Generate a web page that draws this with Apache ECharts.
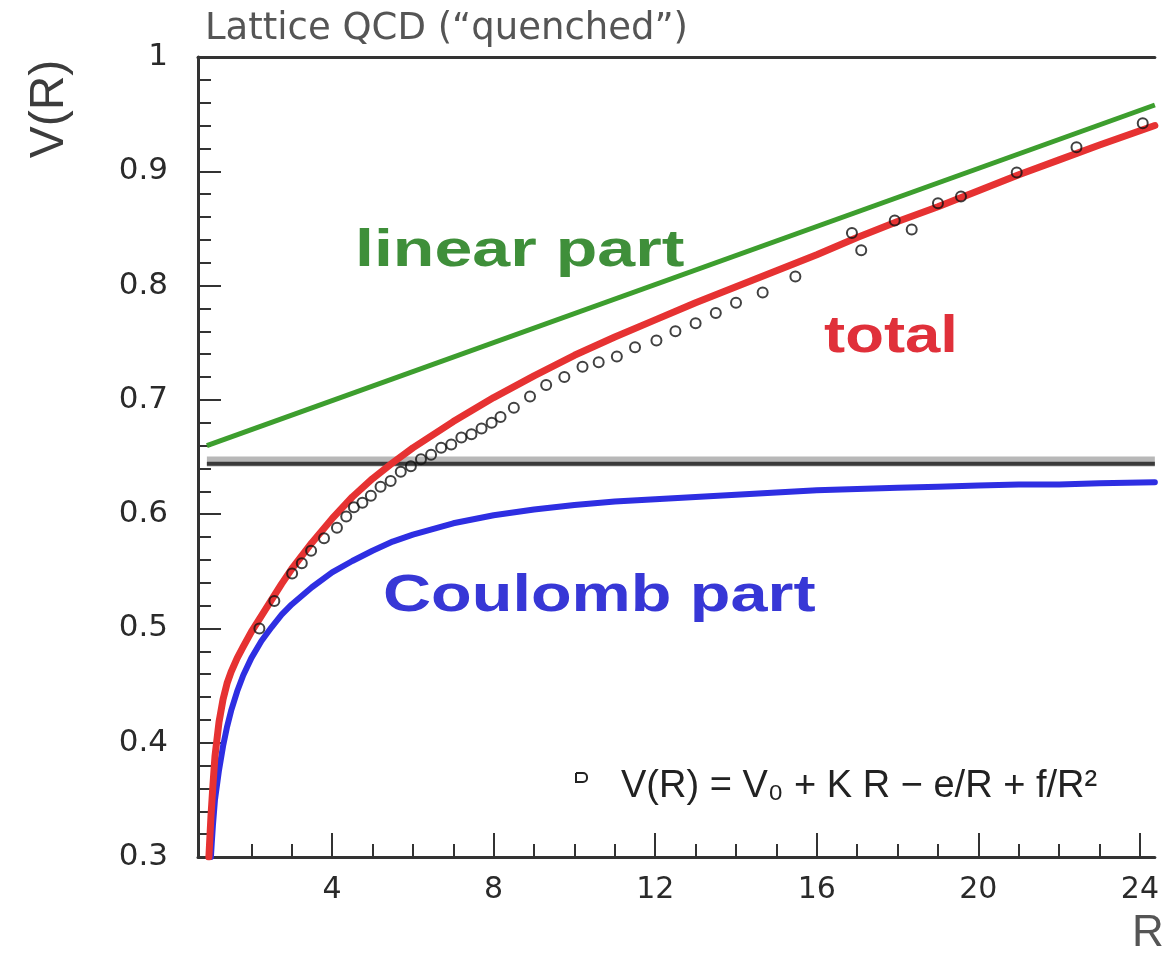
<!DOCTYPE html>
<html>
<head>
<meta charset="utf-8">
<script src="https://cdn.jsdelivr.net/npm/echarts@6/dist/echarts.min.js"></script>
<style>
html,body{margin:0;padding:0;background:#fff;}
#chart{width:1162px;height:957px;}
</style>
</head>
<body>
<div id="chart"></div>
<script>
// ---- data ----
const titleText = 'Lattice QCD (“quenched”)';
const yTickValues = [0.3, 0.4, 0.5, 0.6, 0.7, 0.8, 0.9, 1];
const xMajorTicks = [4, 8, 12, 16, 20, 24];
const xMinorTicks = [1, 2, 3, 4, 5, 6, 7, 8, 9, 10, 11, 12, 13, 14, 15, 16, 17, 18, 19, 20, 21, 22, 23, 24];

const linearR = [0.9, 24.37];
const linearV = [0.660, 0.958];

const plateauR = [0.9, 24.37];
const plateauV = [0.644, 0.644];

const coulombR = [1.0, 1.02, 1.05, 1.1, 1.2, 1.3, 1.4, 1.5, 1.65, 1.8, 2.0, 2.25, 2.5, 2.75, 3.0, 3.5, 4.0, 4.5, 5.0, 5.5, 6.0, 7.0, 8.0, 9.0, 10, 11, 12, 13, 14, 15, 16, 17, 18, 19, 20, 21, 22, 23, 24.37];
const coulombV = [0.300, 0.312, 0.328, 0.350, 0.376, 0.397, 0.414, 0.428, 0.445, 0.459, 0.474, 0.489, 0.501, 0.512, 0.521, 0.536, 0.549, 0.559, 0.568, 0.576, 0.582, 0.592, 0.599, 0.604, 0.608, 0.611, 0.613, 0.615, 0.617, 0.619, 0.621, 0.622, 0.623, 0.624, 0.625, 0.626, 0.626, 0.627, 0.628];

const totalR = [0.95, 1.0, 1.05, 1.1, 1.2, 1.3, 1.4, 1.5, 1.65, 1.8, 2.0, 2.25, 2.5, 2.75, 3.0, 3.5, 4.0, 4.5, 5.0, 5.5, 6.0, 7.0, 8.0, 9.0, 10, 11, 12, 13, 14, 15, 16, 17, 18, 19, 20, 21, 22, 23, 24.37];
const totalV = [0.300, 0.335, 0.363, 0.388, 0.418, 0.438, 0.452, 0.462, 0.474, 0.484, 0.497, 0.511, 0.525, 0.539, 0.552, 0.575, 0.596, 0.615, 0.631, 0.645, 0.658, 0.681, 0.702, 0.721, 0.739, 0.755, 0.770, 0.785, 0.799, 0.813, 0.827, 0.842, 0.856, 0.869, 0.883, 0.897, 0.910, 0.923, 0.940];

const latticeR = [2.2, 2.57, 3.01, 3.25, 3.48, 3.8, 4.12, 4.35, 4.54, 4.75, 4.96, 5.2, 5.45, 5.7, 5.95, 6.2, 6.45, 6.7, 6.95, 7.2, 7.45, 7.7, 7.95, 8.17, 8.5, 8.9, 9.3, 9.75, 10.2, 10.6, 11.05, 11.5, 12.03, 12.5, 13.0, 13.5, 14.0, 14.66, 15.47, 16.87, 17.1, 17.93, 18.35, 19.0, 19.57, 20.95, 22.43, 24.07];
const latticeV = [0.500, 0.524, 0.548, 0.557, 0.568, 0.579, 0.588, 0.598, 0.606, 0.610, 0.616, 0.624, 0.629, 0.637, 0.642, 0.648, 0.652, 0.658, 0.661, 0.667, 0.670, 0.675, 0.680, 0.685, 0.693, 0.703, 0.713, 0.720, 0.729, 0.733, 0.738, 0.746, 0.752, 0.760, 0.767, 0.776, 0.785, 0.794, 0.808, 0.846, 0.831, 0.857, 0.849, 0.872, 0.878, 0.899, 0.921, 0.942];

const labelLinear = 'linear part';
const labelTotal = 'total';
const labelCoulomb = 'Coulomb part';
const formulaText = 'V(R) = V₀ + K R − e/R + f/R²';
const yAxisTitle = 'V(R)';
const xAxisTitle = 'R';

// ---- chart ----
const zip = (a, b) => a.map((v, i) => [v, b[i]]);
const chart = echarts.init(document.getElementById('chart'), null, {renderer: 'canvas'});
const axisColor = '#333';
const tickFont = {fontFamily: 'DejaVu Sans', fontSize: 31, color: '#2a2a2a'};

const option = {
  backgroundColor: '#fff',
  animation: false,
  grid: {left: 198, top: 57, right: 0, bottom: 100, containLabel: false},
  xAxis: [
    {
      type: 'value', min: 0.68, max: 24.37, position: 'bottom',
      axisLine: {show: true, lineStyle: {color: axisColor, width: 3}},
      axisTick: {show: true, inside: true, length: 24, customValues: xMajorTicks, lineStyle: {color: axisColor, width: 2}},
      axisLabel: Object.assign({show: true, margin: 18, customValues: xMajorTicks, formatter: v => String(v)}, tickFont, {fontSize: 30}),
      splitLine: {show: false}
    },
    {
      type: 'value', min: 0.68, max: 24.37, position: 'bottom',
      axisLine: {show: false},
      axisTick: {show: true, inside: true, length: 13, customValues: xMinorTicks, lineStyle: {color: axisColor, width: 2}},
      axisLabel: {show: false},
      splitLine: {show: false}
    },
    {
      type: 'value', min: 0.68, max: 24.37, position: 'top',
      axisLine: {show: true, lineStyle: {color: axisColor, width: 3}},
      axisTick: {show: false}, axisLabel: {show: false}, splitLine: {show: false}
    }
  ],
  yAxis: {
    type: 'value', min: 0.3, max: 1, interval: 0.1,
    axisLine: {show: true, lineStyle: {color: axisColor, width: 3}},
    axisTick: {show: true, inside: true, length: 23, lineStyle: {color: axisColor, width: 2}},
    minorTick: {show: true, splitNumber: 5, length: 13, lineStyle: {color: axisColor, width: 2}},
    axisLabel: Object.assign({show: true, margin: 30, formatter: v => {
      const r = Math.round(v * 10) / 10;
      return yTickValues.indexOf(r) >= 0 ? (r === 1 ? '1' : r.toFixed(1)) : '';
    }}, tickFont),
    splitLine: {show: false}
  },
  series: [
    {
      name: 'linear', type: 'line', xAxisIndex: 0, data: zip(linearR, linearV),
      showSymbol: false, lineStyle: {color: '#3d9e2e', width: 5}, z: 2
    },
    {
      name: 'plateau-light', type: 'line', xAxisIndex: 0, data: zip(plateauR, plateauV.map(v => v + 0.002)),
      showSymbol: false, lineStyle: {color: '#b8b8b8', width: 10}, z: 2
    },
    {
      name: 'plateau', type: 'line', xAxisIndex: 0, data: zip(plateauR, plateauV),
      showSymbol: false, lineStyle: {color: '#3a3a3a', width: 4}, z: 3
    },
    {
      name: 'coulomb', type: 'line', xAxisIndex: 0, data: zip(coulombR, coulombV),
      showSymbol: false, smooth: false,
      lineStyle: {color: '#2e2ee2', width: 6, join: 'round', cap: 'round'}, z: 4
    },
    {
      name: 'total', type: 'line', xAxisIndex: 0, data: zip(totalR, totalV),
      showSymbol: false, smooth: false,
      lineStyle: {color: '#e63232', width: 7, join: 'round', cap: 'round'}, z: 5
    },
    {
      name: 'lattice', type: 'scatter', xAxisIndex: 0, data: zip(latticeR, latticeV),
      symbol: 'circle', symbolSize: 10,
      itemStyle: {color: 'rgba(255,255,255,0)', borderColor: '#111', borderWidth: 2}, z: 6
    }
  ],
  graphic: [
    {type: 'text', x: 205, y: 29, style: {text: titleText, fontFamily: 'DejaVu Sans', fontSize: 37, fill: '#555', align: 'left', verticalAlign: 'middle'}},
    {type: 'text', x: 50, y: 109, rotation: Math.PI / 2, style: {text: yAxisTitle, fontFamily: 'Liberation Sans', fontSize: 48, fill: '#3c3c3c', align: 'center', verticalAlign: 'middle'}},
    {type: 'text', x: 1148, y: 934, style: {text: xAxisTitle, fontFamily: 'Liberation Sans', fontSize: 44, fill: '#555', align: 'center', verticalAlign: 'middle'}},
    {type: 'text', x: 355, y: 252, scaleX: 1.31, z: 10, style: {text: labelLinear, fontFamily: 'Liberation Sans', fontWeight: 'bold', fontSize: 52, fill: '#3f8f3a', align: 'left', verticalAlign: 'middle'}},
    {type: 'text', x: 824, y: 338, scaleX: 1.22, z: 10, style: {text: labelTotal, fontFamily: 'Liberation Sans', fontWeight: 'bold', fontSize: 52, fill: '#e0303a', align: 'left', verticalAlign: 'middle'}},
    {type: 'text', x: 383, y: 597, scaleX: 1.28, z: 10, style: {text: labelCoulomb, fontFamily: 'Liberation Sans', fontWeight: 'bold', fontSize: 52, fill: '#3737d6', align: 'left', verticalAlign: 'middle'}},
    {type: 'rect', x: 576, y: 773, z: 10, shape: {width: 11, height: 9, r: [0, 4, 4, 0]}, style: {fill: 'none', stroke: '#222', lineWidth: 2}},
    {type: 'text', x: 621, y: 787, z: 10, style: {text: formulaText, fontFamily: 'Liberation Sans', fontSize: 38, fill: '#222', align: 'left', verticalAlign: 'middle'}}
  ]
};
chart.setOption(option);
</script>
</body>
</html>
